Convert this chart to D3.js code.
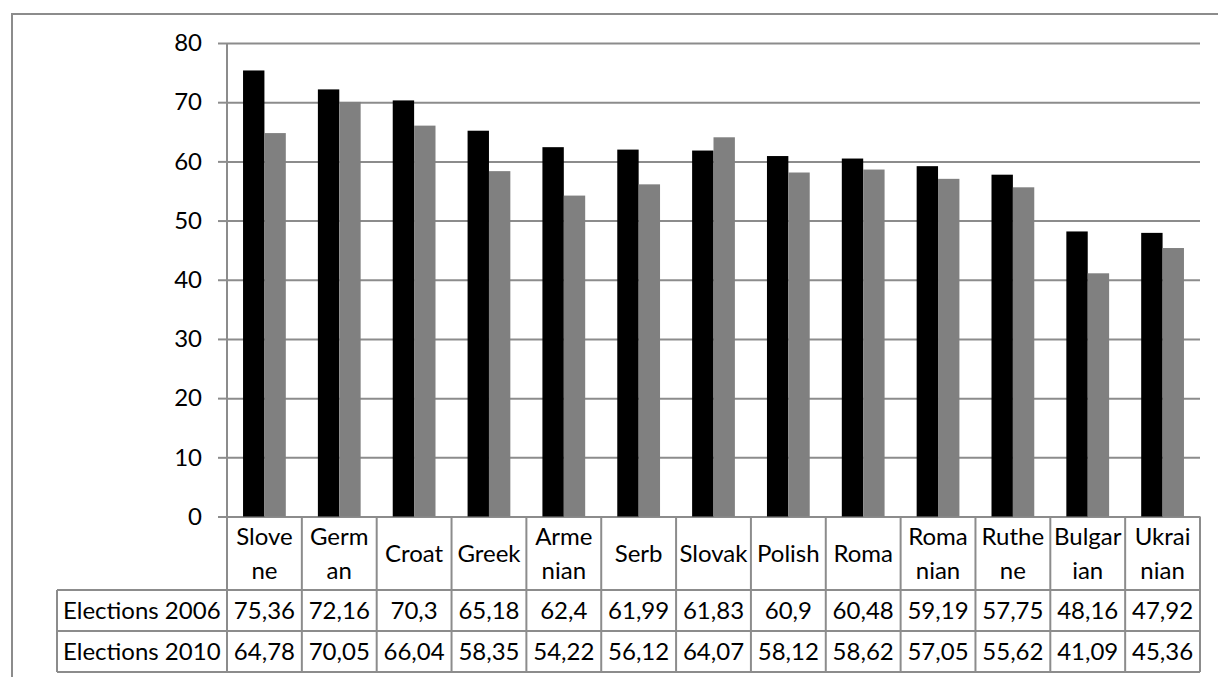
<!DOCTYPE html>
<html>
<head>
<meta charset="utf-8">
<script src="https://cdn.jsdelivr.net/npm/d3@7"></script>
<style>
  body { margin: 0; background: #fff; }
  svg text { font-family: Lato, "Open Sans", sans-serif; fill: #000; }
</style>
</head>
<body>
<div id="chart"></div>
<script>
// category labels, wrapped the way the data table shows them
var categories = ["Slove\nne", "Germ\nan", "Croat", "Greek", "Arme\nnian", "Serb", "Slovak",
  "Polish", "Roma", "Roma\nnian", "Ruthe\nne", "Bulgar\nian", "Ukrai\nnian"];
var seriesNames = ["Elections 2006", "Elections 2010"];
var elections2006 = [75.36, 72.16, 70.3, 65.18, 62.4, 61.99, 61.83, 60.9, 60.48, 59.19, 57.75, 48.16, 47.92];
var elections2010 = [64.78, 70.05, 66.04, 58.35, 54.22, 56.12, 64.07, 58.12, 58.62, 57.05, 55.62, 41.09, 45.36];
var yTicks = [0, 10, 20, 30, 40, 50, 60, 70, 80];

var series = [elections2006, elections2010];
var colors = ["#000000", "#808080"];
var lineColor = "#8c8c8c";

var W = 1218, H = 677;
var plotL = 227, plotR = 1200, plotT = 43, plotB = 516.5;
var rowY = [plotB, 590, 631, 672];   // table row boundaries
var tableL = 57;

var svg = d3.select("#chart").append("svg")
  .attr("width", W)
  .attr("height", H);

// outer chart border (runs off the right and bottom)
svg.append("rect")
  .attr("x", 12).attr("y", 14)
  .attr("width", W + 20).attr("height", H + 20)
  .attr("fill", "none")
  .attr("stroke", lineColor)
  .attr("stroke-width", 2);

var x0 = d3.scaleBand()
  .domain(d3.range(categories.length))
  .range([plotL, plotR])
  .padding(0);

var x1 = d3.scaleBand()
  .domain(d3.range(series.length))
  .range([0, x0.bandwidth()])
  .paddingInner(0)
  .paddingOuter(0.75);

var y = d3.scaleLinear()
  .domain([0, 80])
  .range([plotB, plotT]);

// gridlines
var grid = svg.append("g")
  .attr("transform", "translate(" + plotL + ",0)")
  .call(d3.axisLeft(y).tickValues(yTicks).tickSize(-(plotR - plotL)).tickFormat(""));
grid.select(".domain").remove();
grid.selectAll("line").attr("stroke", lineColor).attr("stroke-width", 2);

// bars
var groups = svg.append("g").selectAll("g")
  .data(categories)
  .enter().append("g")
  .attr("transform", function(d, i) { return "translate(" + x0(i) + ",0)"; });

groups.selectAll("rect")
  .data(function(d, i) { return series.map(function(s, j) { return { s: j, v: s[i] }; }); })
  .enter().append("rect")
  .attr("x", function(d) { return x1(d.s); })
  .attr("width", x1.bandwidth())
  .attr("y", function(d) { return y(d.v); })
  .attr("height", function(d) { return plotB - y(d.v); })
  .attr("fill", function(d) { return colors[d.s]; });

// value axis with ticks + labels
var yAxis = svg.append("g")
  .attr("transform", "translate(" + plotL + ",0)")
  .call(d3.axisLeft(y).tickValues(yTicks).tickSize(9).tickPadding(16));
yAxis.select(".domain")
  .attr("stroke", lineColor).attr("stroke-width", 2)
  .attr("d", "M0," + plotT + "V" + plotB);
yAxis.selectAll(".tick line").attr("stroke", lineColor).attr("stroke-width", 2);
yAxis.selectAll(".tick text")
  .style("font-family", "Lato, sans-serif")
  .style("font-size", "24px")
  .attr("fill", "#000");

// data table grid
var table = svg.append("g")
  .attr("stroke", lineColor)
  .attr("stroke-width", 2)
  .attr("fill", "none");

d3.range(categories.length + 1).forEach(function(i) {
  var xx = i < categories.length ? x0(i) : plotR;
  table.append("line")
    .attr("x1", xx).attr("x2", xx)
    .attr("y1", rowY[0]).attr("y2", rowY[3]);
});
[1, 2, 3].forEach(function(k) {
  table.append("line")
    .attr("x1", tableL).attr("x2", plotR)
    .attr("y1", rowY[k]).attr("y2", rowY[k]);
});
table.append("line")
  .attr("x1", tableL).attr("x2", tableL)
  .attr("y1", rowY[1]).attr("y2", rowY[3]);

// category labels
var catText = svg.append("g").selectAll("text")
  .data(categories)
  .enter().append("text")
  .attr("text-anchor", "middle")
  .style("font-size", "24px")
  .attr("x", function(d, i) { return x0(i) + x0.bandwidth() / 2; });

catText.each(function(d) {
  var lines = d.split("\n");
  var mid = (rowY[0] + rowY[1]) / 2;
  var t = d3.select(this);
  lines.forEach(function(l, k) {
    t.append("tspan")
      .attr("x", t.attr("x"))
      .attr("y", mid + 9 + (k - (lines.length - 1) / 2) * 34)
      .text(l);
  });
});

// series rows
series.forEach(function(s, j) {
  var mid = (rowY[j + 1] + rowY[j + 2]) / 2;
  svg.append("text")
    .attr("x", tableL + 6)
    .attr("y", mid + 8.5)
    .style("font-size", "24px")
    .text(seriesNames[j]);

  svg.append("g").selectAll("text")
    .data(s)
    .enter().append("text")
    .attr("text-anchor", "middle")
    .attr("x", function(d, i) { return x0(i) + x0.bandwidth() / 2; })
    .attr("y", mid + 8.5)
    .style("font-size", "24px")
    .text(function(d) { return String(d).replace(".", ","); });
});
</script>
</body>
</html>
